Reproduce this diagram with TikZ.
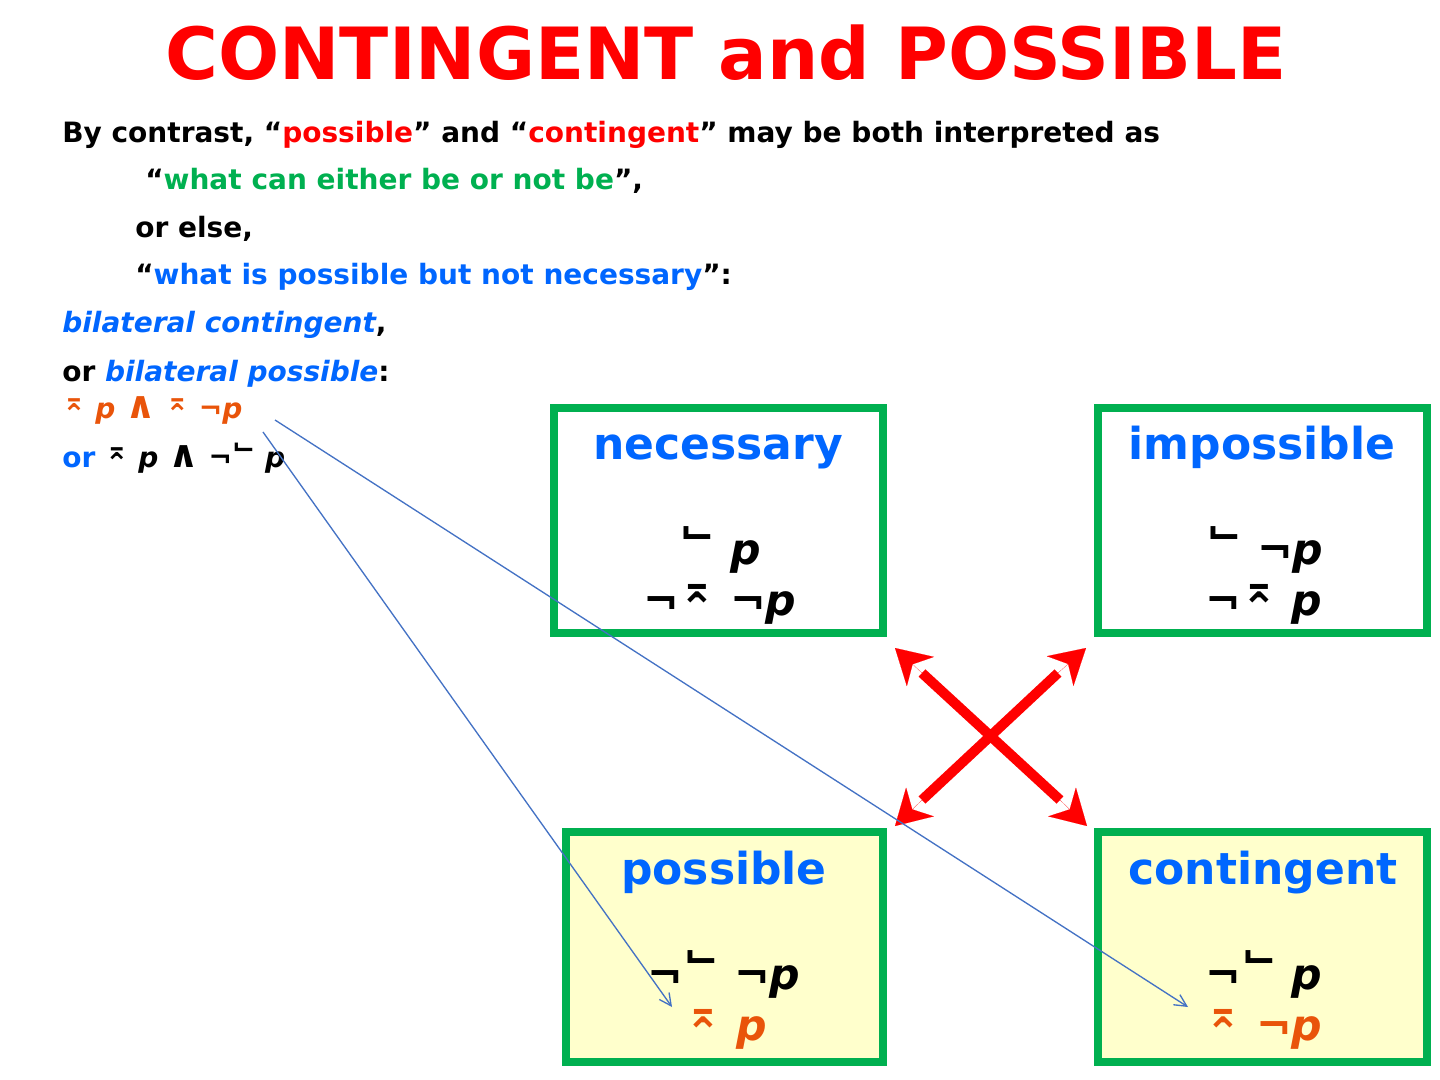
\documentclass[tikz,border=0pt]{standalone}
\usepackage{fontspec}
\setmainfont{DejaVu Sans}
\usetikzlibrary{arrows.meta,positioning}

\definecolor{boxgreen}{RGB}{0,176,80}
\definecolor{txtblue}{RGB}{0,102,255}
\definecolor{symorange}{RGB}{233,84,10}
\definecolor{boxyellow}{RGB}{255,255,204}
\definecolor{linkblue}{RGB}{68,114,196}

\newcommand{\necsym}{\raisebox{0.45em}[0.7em][0pt]{⌙}}
\newcommand{\possym}{\raisebox{0.3em}[0.7em][0pt]{⌅}}
\newcommand{\conj}{\scalebox{1.35}{∧}}
\newcommand{\vp}{\textit{p}}

\begin{document}
\begin{tikzpicture}[x=0.75pt,y=-0.75pt,
      txt/.style={anchor=base west,inner sep=0pt,font=\bfseries\fontsize{21}{24}\selectfont},
      ttl/.style={anchor=base,inner sep=0pt,text=txtblue,font=\bfseries\fontsize{33}{36}\selectfont},
      fml/.style={anchor=base,inner sep=0pt,font=\bfseries\fontsize{32}{36}\selectfont},
      kbox/.style={draw=boxgreen,line width=6pt,inner sep=0pt,minimum width=246.75pt},
      xline/.style={red,line width=7.5pt},
      xtip/.style={red,line width=0.1pt,-{Stealth[length=26pt,width=30pt,inset=8pt]}},
      linkarr/.style={linkblue,line width=1pt,-{Straight Barb[length=9pt,width=9pt]}}
    ]
      \useasboundingbox (0,0) rectangle (1440,1080);
      \node[anchor=base,inner sep=0pt,text=red,font=\bfseries\fontsize{54}{60}\selectfont] (title) at (726,80) {CONTINGENT and POSSIBLE};

      % text on the left
      \node[txt] (l1) at (62,143) {By contrast, “\textcolor{red}{possible}” and “\textcolor{red}{contingent}” may be both interpreted as};
      \node[txt] (l2) at (145,190) {“\textcolor{boxgreen}{what can either be or not be}”,};
      \node[txt] (l3) at (135,238) {or else,};
      \node[txt] (l4) at (135,285) {“\textcolor{txtblue}{what is possible but not necessary}”:};
      \node[txt,text=txtblue] (l5) at (62,333) {\itshape bilateral contingent\textcolor{black}{\upshape,}};
      \node[txt] (l6) at (62,382) {or \textcolor{txtblue}{\itshape bilateral possible}:};
      \node[txt,text=symorange] (l7) at (62,419) {\possym\ \vp\ \conj\ \possym\ ¬\vp};
      \node[txt] (l8) at (62,468) {\textcolor{txtblue}{or} \possym\ \vp\ \conj\ ¬\necsym\ \vp};

      % the four boxes
      \node[kbox,minimum height=168.75pt] (necbox) at (718.5,520.5) {};
      \node[kbox,minimum height=168.75pt] (impbox) at (1262.5,520.5) {};
      \node[kbox,fill=boxyellow,minimum width=237.75pt,minimum height=172.5pt] (posbox) at (724.5,947) {};
      \node[kbox,fill=boxyellow,minimum height=172.5pt] (conbox) at (1262.5,947) {};

      \node[ttl] (necT) at (718,460) {necessary};
      \node[fml] (necA) at (720,565) {\necsym\ \vp};
      \node[fml] (necB) at (720,615) {¬\possym\ ¬\vp};
      \node[ttl] (impT) at (1262,460) {impossible};
      \node[fml] (impA) at (1265,565) {\necsym\ ¬\vp};
      \node[fml] (impB) at (1264,615) {¬\possym\ \vp};
      \node[ttl] (posT) at (724,884) {possible};
      \node[fml] (posA) at (724,989) {¬\necsym\ ¬\vp};
      \node[fml,text=symorange] (posB) at (726,1040) {\possym\ \vp};
      \node[ttl] (conT) at (1263,884) {contingent};
      \node[fml] (conA) at (1264,989) {¬\necsym\ \vp};
      \node[fml,text=symorange] (conB) at (1264,1040) {\possym\ ¬\vp};

      % red cross
      \coordinate (nwEnd) at (922,673);
      \coordinate (neEnd) at (1058,673);
      \coordinate (swEnd) at (922,800);
      \coordinate (seEnd) at (1060,800);
      \coordinate (nwTip) at (895,648);
      \coordinate (neTip) at (1086,648);
      \coordinate (swTip) at (895,826);
      \coordinate (seTip) at (1087,826);
      \draw[xline] (nwEnd) -- (seEnd);
      \draw[xline] (swEnd) -- (neEnd);
      \draw[xtip] (nwEnd) -- (nwTip);
      \draw[xtip] (neEnd) -- (neTip);
      \draw[xtip] (swEnd) -- (swTip);
      \draw[xtip] (seEnd) -- (seTip);

      % blue links
      \coordinate (fromCon) at (275,420);
      \coordinate (fromPos) at (263,432);
      \coordinate (toCon) at (1188,1007);
      \coordinate (toPos) at (672,1007);
      \draw[linkarr] (fromCon) -- (toCon);
      \draw[linkarr] (fromPos) -- (toPos);
    \end{tikzpicture}
\end{document}
